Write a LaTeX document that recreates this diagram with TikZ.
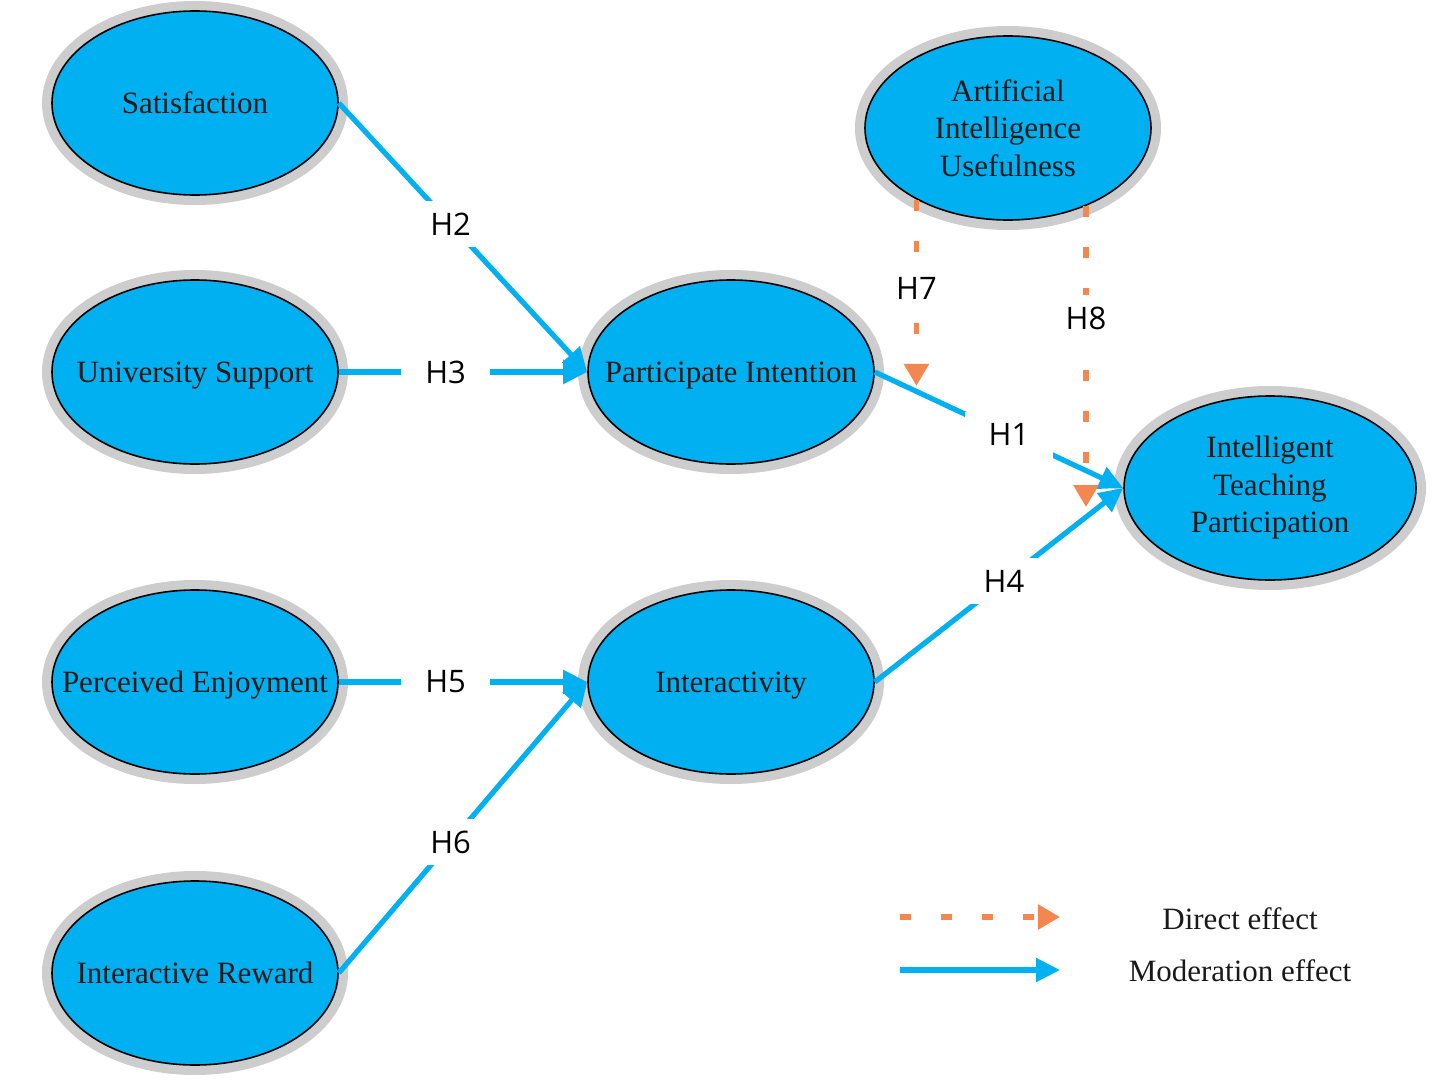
\documentclass[tikz,border=0pt]{standalone}
\usepackage{fontspec}
\setmainfont{Liberation Serif}
\newfontfamily\hypfont{Open Sans}
\usepackage{tikz}
\usetikzlibrary{positioning,arrows.meta,shapes.geometric}
\definecolor{skyfill}{RGB}{0,176,240}
\definecolor{ringgray}{RGB}{205,205,205}
\definecolor{dirorange}{RGB}{244,135,80}

\begin{document}
\begin{tikzpicture}[x=0.5pt,y=-0.5pt,
  construct/.style={ellipse,draw=black,line width=0.8pt,fill=skyfill,minimum width=143pt,minimum height=92pt,inner sep=0pt,preaction={draw=ringgray,line width=10pt}},
  ctext/.style={align=center,text=black!90,font=\fontsize{15.5}{18.75}\selectfont},
  oneline/.style={ctext,text height=10.2pt,text depth=0pt},
  moder/.style={draw=skyfill,line width=2.6pt,-{Triangle[length=12pt,width=11.5pt]}},
  direct/.style={draw=dirorange,line width=2.8pt,dash pattern=on 5.5pt off 15pt,-{Triangle[length=11pt,width=12pt]}},
  hyp/.style={fill=white,inner xsep=12pt,inner ysep=6pt,font=\hypfont\fontsize{15.5}{18}\selectfont}]
\useasboundingbox (0,0) rectangle (1446,1081);
\node[construct,label={[oneline]center:Satisfaction}] (sat) at (195,103) {};
\node[construct,label={[oneline]center:University Support}] (sup) at (195,372) {};
\node[construct,label={[oneline]center:Perceived Enjoyment}] (enj) at (195,682) {};
\node[construct,label={[oneline]center:Interactive Reward}] (rew) at (195,973) {};
\node[construct,label={[oneline]center:Participate Intention}] (pi) at (731,372) {};
\node[construct,label={[oneline]center:Interactivity}] (inter) at (731,682) {};
\node[construct,label={[ctext]center:{Artificial\\Intelligence\\Usefulness}}] (aiu) at (1008,128) {};
\node[construct,minimum width=146pt,label={[ctext]center:{Intelligent\\Teaching\\Participation}}] (itp) at (1270,488) {};

\draw[moder] (sat.east) -- node[hyp,pos=0.45] {H2} (pi.west);
\draw[moder] (sup.east) -- node[hyp,pos=0.43] {H3} (pi.west);
\draw[moder] (enj.east) -- node[hyp,pos=0.43] {H5} (inter.west);
\draw[moder] (rew.east) -- node[hyp,pos=0.45] {H6} (inter.west);
\draw[moder] (pi.east) -- node[hyp,pos=0.54] {H1} coordinate[pos=0.18] (m1) (itp.west);
\draw[moder] (inter.east) -- node[hyp,pos=0.52] {H4} coordinate[pos=0.85] (m4) (itp.west);

\draw[direct,shorten >=3.5pt] (aiu.218) -- node[hyp,pos=0.46] {H7} (aiu.218 |- m1);
\draw[direct,shorten >=5pt] (aiu.315) -- node[hyp,pos=0.36] {H8} (aiu.315 |- m4);

\coordinate (dirA) at (900,917);
\coordinate (dirB) at (1060,917);
\coordinate (modA) at (900,970);
\coordinate (modB) at (1060,970);
\draw[direct] (dirA) -- (dirB);
\draw[moder] (modA) -- (modB);
\node[oneline] (dirtxt) at (1240,919) {Direct effect};
\node[oneline] (modtxt) at (1240,971) {Moderation effect};
\end{tikzpicture}
\end{document}
